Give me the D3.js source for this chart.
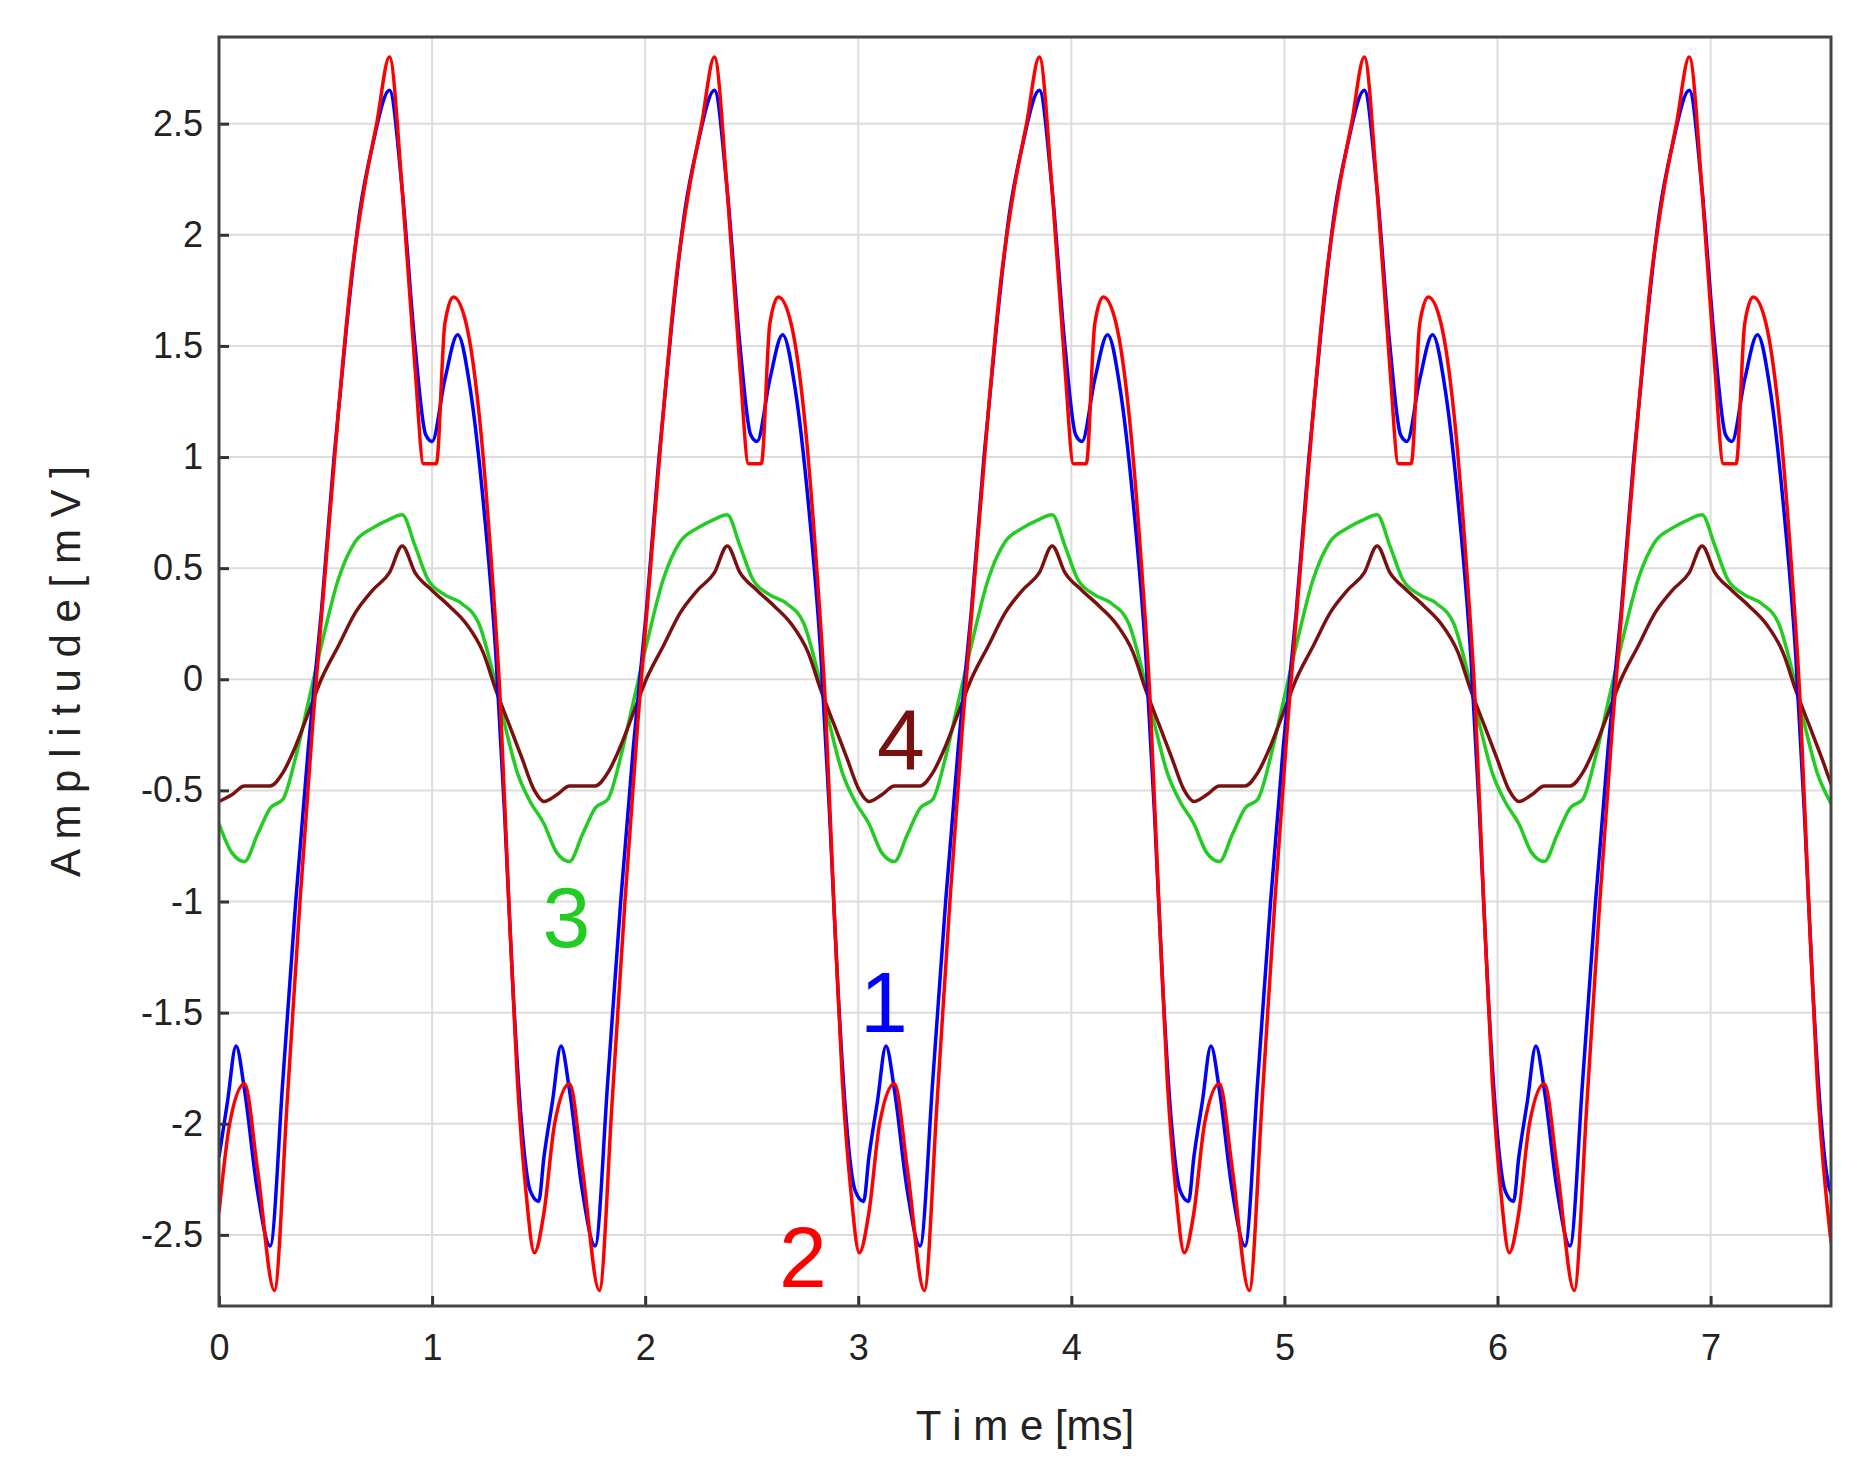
<!DOCTYPE html>
<html lang="en">
<head>
  <meta charset="UTF-8">
  <script src="https://d3js.org/d3.v7.min.js"></script>
  <style>
    body { margin: 0; background: #fff; }
    text { font-family: Arial, "Liberation Sans", sans-serif; }
    .grid line { stroke: #dcdcdc; stroke-width: 2; }
    .axis path, .axis line { stroke: #333; stroke-width: 3; }
    .axis text { font-size: 36px; fill: #222; }
  </style>
  <title>Amplitude vs Time</title>
</head>
<body>
<div id="chart"></div>
<script>
// one cycle of each trace (time within cycle in ms)
var period = 1.525;
var cycleTime1 = [0,0.04,0.08,0.12,0.18,0.24,0.30,0.36,0.42,0.48,0.54,0.60,0.66,0.72,0.80,0.86,0.92,0.97,1.00,1.06,1.12,1.18,1.24,1.30,1.34,1.38,1.42,1.46,1.50];
var series1 = [-2.15,-1.9,-1.65,-1.85,-2.3,-2.55,-1.8,-1.0,-0.3,0.3,1.0,1.6,2.1,2.4,2.65,2.2,1.5,1.1,1.07,1.35,1.55,1.3,0.8,0.1,-0.6,-1.4,-2.0,-2.3,-2.35];
var cycleTime2 = [0,0.05,0.12,0.18,0.26,0.32,0.38,0.44,0.50,0.56,0.62,0.68,0.74,0.80,0.86,0.92,0.96,1.02,1.06,1.10,1.16,1.22,1.28,1.32,1.36,1.40,1.44,1.48];
var series2 = [-2.4,-2.0,-1.82,-2.2,-2.75,-1.9,-1.0,-0.2,0.5,1.2,1.8,2.2,2.5,2.8,2.2,1.4,0.97,0.97,1.6,1.72,1.6,1.2,0.5,-0.1,-1.0,-1.8,-2.3,-2.58];
var cycleTime3 = [0,0.06,0.12,0.18,0.24,0.30,0.36,0.42,0.48,0.56,0.64,0.72,0.80,0.86,0.92,0.98,1.06,1.14,1.22,1.28,1.34,1.40,1.46];
var series3 = [-0.65,-0.78,-0.82,-0.7,-0.58,-0.54,-0.35,-0.1,0.15,0.45,0.62,0.68,0.72,0.74,0.6,0.45,0.38,0.34,0.25,0.05,-0.2,-0.42,-0.55];
var cycleTime4 = [0,0.06,0.12,0.24,0.30,0.36,0.42,0.48,0.56,0.64,0.72,0.80,0.86,0.92,1.00,1.08,1.16,1.24,1.30,1.36,1.42,1.48];
var series4 = [-0.55,-0.52,-0.48,-0.48,-0.42,-0.3,-0.15,0.0,0.15,0.3,0.4,0.48,0.6,0.48,0.4,0.33,0.25,0.12,-0.05,-0.2,-0.35,-0.5];
var xTicks = [0,1,2,3,4,5,6,7];
var yTicks = [-2.5,-2,-1.5,-1,-0.5,0,0.5,1,1.5,2,2.5];

var width = 1869, height = 1481;
var pLeft = 219, pRight = 1831, pTop = 37, pBottom = 1306;

var svg = d3.select("#chart").append("svg")
  .attr("width", width).attr("height", height);

var x = d3.scaleLinear().domain([0, 7.565]).range([pLeft, pRight]);
var y = d3.scaleLinear().domain([-2.82, 2.89]).range([pBottom, pTop]);

// grid
var grid = svg.append("g").attr("class", "grid");
grid.selectAll("line.v").data(xTicks).enter().append("line").attr("class", "v")
  .attr("x1", d => x(d)).attr("x2", d => x(d)).attr("y1", pTop).attr("y2", pBottom);
grid.selectAll("line.h").data(yTicks).enter().append("line").attr("class", "h")
  .attr("x1", pLeft).attr("x2", pRight).attr("y1", d => y(d)).attr("y2", d => y(d));

// repeat the cycle across the time window
function tile(ts, vs) {
  var pts = [];
  for (var k = 0; k * period < 7.565 + period; k++) {
    ts.forEach(function(t, i) {
      pts.push([t + k * period, vs[i]]);
    });
  }
  return pts;
}
svg.append("clipPath").attr("id", "c").append("rect")
  .attr("x", pLeft).attr("y", pTop).attr("width", pRight - pLeft).attr("height", pBottom - pTop);

var line = d3.line().x(d => x(d[0])).y(d => y(d[1])).curve(d3.curveMonotoneX);
var traces = [
  [cycleTime3, series3, "#22cc22"],
  [cycleTime4, series4, "#7a1010"],
  [cycleTime1, series1, "#0000ff"],
  [cycleTime2, series2, "#ff0000"]
];
traces.forEach(function(tr) {
  svg.append("path").datum(tile(tr[0], tr[1]))
    .attr("clip-path", "url(#c)")
    .attr("fill", "none").attr("stroke", tr[2]).attr("stroke-width", 3.5)
    .attr("d", line);
});

// axes
svg.append("g").attr("class", "axis")
  .attr("transform", "translate(0," + pBottom + ")")
  .call(d3.axisBottom(x).tickValues(xTicks).tickSize(-10).tickPadding(28).tickFormat(d3.format("d")));
svg.append("g").attr("class", "axis")
  .attr("transform", "translate(" + pLeft + ",0)")
  .call(d3.axisLeft(y).tickValues(yTicks).tickSize(-10).tickPadding(16).tickFormat(d => d));
svg.selectAll(".axis .domain").remove();
svg.append("rect").attr("x", pLeft).attr("y", pTop).attr("width", pRight - pLeft).attr("height", pBottom - pTop)
  .attr("fill", "none").attr("stroke", "#444").attr("stroke-width", 3);

// axis titles
svg.append("text").attr("x", (pLeft + pRight) / 2).attr("y", 1440)
  .attr("text-anchor", "middle").attr("font-size", 42).attr("fill", "#222")
  .text("T i m e [ms]");
svg.append("text").attr("transform", "translate(80," + (pTop + pBottom) / 2 + ") rotate(-90)")
  .attr("text-anchor", "middle").attr("font-size", 42).attr("fill", "#222")
  .text("A m p l i t u d e [ m V ]");

// curve numbers
var labels = [["4", 3.2, -0.27, "#7a1010"], ["3", 1.63, -1.07, "#22cc22"], ["1", 3.12, -1.45, "#0000ff"], ["2", 2.74, -2.6, "#ff0000"]];
svg.selectAll(".lbl").data(labels).enter().append("text")
  .attr("x", d => x(d[1])).attr("y", d => y(d[2]) + 30)
  .attr("text-anchor", "middle").attr("font-size", 86).attr("fill", d => d[3])
  .text(d => d[0]);
</script>
</body>
</html>
